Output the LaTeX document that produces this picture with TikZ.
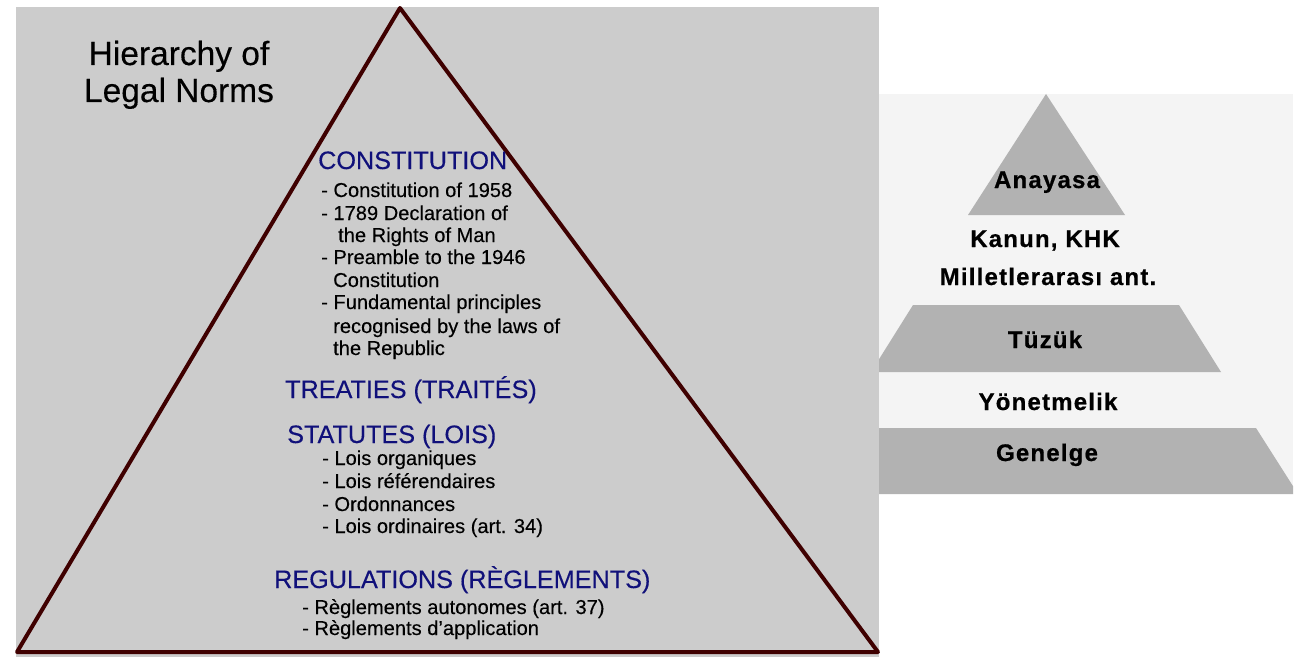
\documentclass[tikz,border=0pt]{standalone}
\usepackage{fontspec}
\setmainfont[FakeBold=0.3]{Liberation Sans}
\newfontfamily\pyrfont[LetterSpace=5,FakeBold=0.6]{Liberation Sans Bold}
\definecolor{bgL}{HTML}{CCCCCC}
\definecolor{edgecol}{HTML}{3F0000}
\definecolor{navy}{HTML}{10107A}
\definecolor{bgR}{HTML}{F4F4F4}
\definecolor{band}{HTML}{B2B2B2}
\tikzset{
  title/.style={anchor=base, inner sep=0, font=\fontsize{33.5}{37}\selectfont},
  head/.style={anchor=base west, inner sep=0, text=navy, font=\fontsize{25.2}{28}\selectfont},
  item/.style={anchor=base west, inner sep=0, font=\fontsize{20.1}{22}\selectfont},
  pyr/.style={anchor=base, inner sep=0, font=\pyrfont\fontsize{24}{26}\selectfont},
}
\begin{document}
\begin{tikzpicture}[x=1pt,y=-1pt]
\useasboundingbox (0,0) rectangle (1301,658);
\fill[white] (0,0) rectangle (1301,658);
% left panel
\fill[bgL] (16,7) rectangle (879,657);
\draw[edgecol, line width=4pt, line join=round] (400,8) -- (17,652) -- (878,652) -- cycle;
\node[title] (t1) at (179,65) {Hierarchy of};
\node[title] (t2) at (179,102) {Legal Norms};
\node[head] (h1) at (318,169) {CONSTITUTION};
\node[item] (c1) at (321,197) {- Constitution of 1958};
\node[item] (c2) at (321,220) {- 1789 Declaration of};
\node[item] (c3) at (338,242) {the Rights of Man};
\node[item] (c4) at (321,264) {- Preamble to the 1946};
\node[item] (c5) at (333,287) {Constitution};
\node[item] (c6) at (321,309) {- Fundamental principles};
\node[item] (c7) at (333,333) {recognised by the laws of};
\node[item] (c8) at (333,355) {the Republic};
\node[head] (h2) at (285,398) {TREATIES (TRAITÉS)};
\node[head] (h3) at (287,443) {STATUTES (LOIS)};
\node[item] (s1) at (322,465) {- Lois organiques};
\node[item] (s2) at (322,488) {- Lois référendaires};
\node[item] (s3) at (322,511) {- Ordonnances};
\node[item] (s4) at (322,533) {- Lois ordinaires (art. 34)};
\node[head] (h4) at (274,588) {REGULATIONS (RÈGLEMENTS)};
\node[item] (r1) at (302,614) {- Règlements autonomes (art. 37)};
\node[item] (r2) at (302,635) {- Règlements d’application};
% right panel
\fill[bgR] (879,94) rectangle (1293,494);
\begin{scope}
\clip (879,94) rectangle (1293,494);
\fill[band] (1046,94) -- (968,215) -- (1125,215) -- cycle;
\fill[band] (913,305) -- (1179,305) -- (1221,372) -- (871,372) -- cycle;
\fill[band] (836,428) -- (1256,428) -- (1298,494) -- (794,494) -- cycle;
\end{scope}
\node[pyr] (p1) at (1047,188) {Anayasa};
\node[pyr] (p2) at (1045,247) {Kanun, KHK};
\node[pyr] (p3) at (1048,285) {Milletlerarası ant.};
\node[pyr] (p4) at (1045,348) {Tüzük};
\node[pyr] (p5) at (1048,410) {Yönetmelik};
\node[pyr] (p6) at (1047,461) {Genelge};
\end{tikzpicture}
\end{document}
